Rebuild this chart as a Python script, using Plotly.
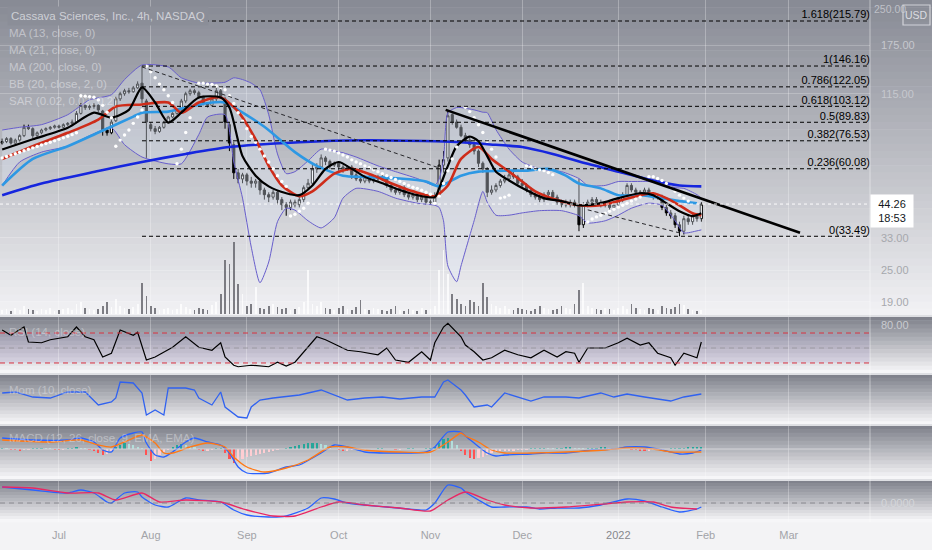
import numpy as np
import pandas as pd
import plotly.graph_objects as go
from plotly.subplots import make_subplots

# one bar per session, NASDAQ calendar
holidays = ["2021-07-05", "2021-09-06", "2021-11-25", "2021-12-24", "2022-01-17", "2022-02-21"]
days = pd.bdate_range("2021-06-14", "2022-01-31")
days = days[~days.isin(pd.to_datetime(holidays))]

opens = [75, 76, 78, 75, 77, 80, 86, 85, 80, 82, 84, 85, 86,
         87, 86, 88, 89, 90, 97, 104, 102, 103, 104, 99, 84, 82, 91, 110, 115, 118, 117, 121, 126, 108,
         88, 85, 83, 86, 90, 94, 97, 100, 108, 115, 118, 116, 112, 106, 104, 110, 118, 110, 88, 74, 58, 55,
         57, 54, 53, 54, 50, 48, 47, 49, 46, 44, 43, 45, 44, 46, 51, 53, 60, 61, 66, 64, 62,
         63, 61, 60, 61, 57, 55, 54, 56, 54, 55, 56, 55, 52, 50, 49, 51, 48, 47, 48, 46, 47,
         45, 45, 48, 62, 66, 96, 90, 86, 80, 77, 74, 70, 63, 60, 49, 50, 52, 54, 55, 57, 56,
         53, 52, 50, 48, 47, 46, 48, 49, 47, 45, 44, 44, 45, 44, 37, 44, 45, 46, 45, 44, 44, 43,
         44, 46, 48, 52, 50, 49, 49, 50, 48, 47, 47, 43, 41, 40, 37, 35, 39, 38, 40, 39]
highs = [78, 79, 79, 78, 81, 88, 88, 86, 83, 85, 86, 87, 88,
         88, 89, 90, 92, 99, 106, 105, 105, 106, 105, 100, 86, 92, 112, 117, 120, 121, 123, 128, 146.16, 110,
         90, 87, 87, 91, 95, 98, 101, 110, 117, 120, 120, 118, 113, 107, 112, 121, 120, 112, 90, 76, 60, 58,
         58, 56, 55, 55, 51, 49, 50, 50, 47, 45, 46, 46, 47, 52, 55, 62, 63, 68, 67, 65, 64,
         64, 62, 62, 62, 58, 56, 57, 57, 56, 57, 57, 56, 53, 51, 52, 52, 49, 49, 49, 48, 48,
         46, 49, 65, 70, 99, 97, 92, 88, 82, 79, 75, 71, 64, 61, 52, 53, 55, 57, 58, 59, 57,
         55, 53, 51, 49, 48, 49, 50, 50, 48, 46, 46, 46, 46, 55, 45, 46, 47, 47, 46, 45, 45, 45,
         47, 49, 53, 53, 51, 50, 51, 51, 49, 48, 48, 44, 42, 41, 38, 40, 40, 41, 41, 45]
lows = [74, 75, 74, 74, 76, 79, 84, 78, 79, 81, 83, 84, 85,
        85, 85, 87, 88, 89, 96, 100, 100, 101, 98, 80, 80, 81, 90, 108, 113, 115, 116, 120, 106, 66,
        83, 81, 82, 85, 89, 93, 96, 99, 106, 113, 114, 110, 104, 102, 103, 108, 110, 85, 70, 55, 53, 53,
        52, 51, 51, 48, 46, 45, 46, 44, 42, 40, 42, 43, 43, 45, 50, 52, 58, 60, 62, 60, 61,
        59, 58, 59, 55, 54, 53, 53, 53, 53, 54, 54, 51, 49, 48, 48, 47, 46, 46, 45, 45, 44,
        44, 44, 47, 58, 64, 88, 85, 79, 75, 72, 68, 61, 58, 47, 48, 49, 51, 53, 54, 55, 52,
        51, 49, 47, 46, 45, 45, 47, 46, 44, 43, 43, 43, 43, 35, 36, 43, 44, 44, 43, 43, 42, 42,
        43, 45, 47, 49, 48, 48, 48, 47, 46, 46, 42, 40, 39, 36, 33.49, 34, 37, 37, 38, 38]
closes = [76, 78, 75, 77, 80, 86, 85, 80, 82, 84, 85, 86, 87,
          86, 88, 89, 90, 97, 104, 102, 103, 104, 100, 84, 82, 90, 110, 115, 118, 117, 121, 125, 110, 90,
          85, 83, 86, 90, 94, 97, 100, 108, 115, 118, 116, 112, 106, 104, 110, 118, 112, 90, 75, 58, 55, 57,
          54, 53, 54, 50, 48, 47, 49, 46, 44, 43, 45, 44, 46, 51, 53, 60, 61, 66, 64, 62, 63,
          61, 60, 61, 57, 55, 54, 56, 54, 55, 56, 55, 52, 50, 49, 51, 48, 47, 48, 46, 47, 45,
          45, 47, 62, 65, 95, 90, 86, 80, 77, 74, 70, 63, 60, 49, 50, 52, 54, 55, 57, 56, 53,
          52, 50, 48, 47, 46, 48, 49, 47, 45, 44, 44, 45, 44, 37, 44, 45, 46, 45, 44, 44, 43, 44,
          46, 48, 52, 50, 49, 49, 50, 48, 47, 47, 43, 41, 40, 37, 35, 39, 38, 40, 39, 44.26]
# volume, millions
volume = [2, 2.5, 1.5, 3, 2, 4, 2.5, 2, 1.5, 2.5, 2, 3, 1.5,
          2, 2.5, 3, 2, 5, 6, 3, 2.5, 2, 2.5, 4, 6, 3.5,
          7.5, 4, 3, 2.5, 3.5, 5, 15.5, 9,
          4, 3, 2, 2.5, 3, 2, 2.5, 5, 3.5, 2.5, 2, 3, 2.5, 2, 4.5, 6, 10,
          27, 25, 36, 15, 10, 4, 5, 13.5,
          3, 2.5, 4, 5, 3.5, 2.5, 3, 2, 2.5, 3.5, 6, 22,
          5, 4, 6, 3, 2.5, 2, 3, 4, 2.5, 2, 3.5, 7, 2.5, 2, 3, 2.5, 2, 1.5, 2.5, 4, 2, 1.5, 2.5, 2, 1.5, 3, 2, 2.5, 4,
          22, 32, 20, 10, 7.5,
          5, 4, 7, 6, 4, 15.5, 8.5, 5, 4,
          3, 4, 2.5, 2, 3, 2.5, 2, 1.5, 2.5, 4, 3, 2.5, 2, 2.5, 4, 3, 2.5,
          5, 12, 15.5, 4, 3,
          2.5, 2, 3, 2.5, 2, 3, 4, 2.5, 5, 3, 2.5, 2, 3, 2.5, 2, 4, 3, 2.5, 3.5, 5, 4.5, 2.5, 2, 1.5, 2]

# moving averages (session index -> price)
ma13_at = [0, 7, 15, 21, 25, 29, 32, 35, 38, 41, 45, 50, 52, 55, 58, 61, 65, 68, 71, 74, 77, 80, 83, 87, 91, 95,
           99, 100, 102, 104, 107, 109, 111, 113, 116, 120, 124, 128, 132, 137, 141, 146, 149, 152, 155, 158, 160]
ma13 = [71, 77.5, 85.6, 97.6, 93.5, 100, 121.5, 106.6, 89.6, 97.6, 111.3, 111.3, 102, 67, 56.6, 51.6, 48.6, 47.8,
        52, 60, 63.7, 60, 56, 53, 50, 47.8, 47, 50.7, 61.6, 73, 79.4, 76.2, 67, 58.6, 54.3, 49.9, 46.6, 45.4, 43.8,
        44.6, 46.6, 48.6, 47.8, 44.6, 41.6, 39.9, 40.9]
ma21_at = [0, 7, 15, 22, 26, 32, 38, 41, 45, 50, 54, 58, 61, 64, 68, 71, 76, 80, 85, 89, 94, 99, 102, 105, 109, 112,
           116, 119, 122, 127, 132, 137, 141, 146, 149, 152, 155, 158, 160]
ma21 = [65.4, 73, 82, 92, 103, 104.8, 106.6, 97.6, 106.6, 111.3, 98.5, 77.5, 61.6, 52, 47.4, 49.4, 57.6, 60, 56.6,
        53, 49.4, 47.4, 52, 65.4, 72.5, 65.4, 58.6, 53.8, 49.4, 45.8, 43.8, 43.8, 45.4, 47.8, 48.6, 46.6, 43.8, 40.9, 40.2]
ma50_at = [0, 7, 15, 22, 30, 32, 38, 42, 48, 51, 54, 60, 67, 72, 78, 83, 91, 97, 100, 105, 109, 116, 120, 125, 129,
           132, 137, 141, 146, 151, 155, 159]
ma50 = [52, 65.4, 73, 82.2, 94.3, 97.6, 98.5, 102, 106.6, 106.6, 100, 86.4, 69.4, 61.6, 56.6, 56, 55.2, 53.8, 51.6,
        56.6, 58.6, 59.1, 59.1, 60, 56.6, 52.9, 50.7, 47.8, 47.8, 46.6, 45.4, 44.6]
ma200_at = [0, 9, 22, 32, 42, 52, 68, 83, 99, 105, 111, 119, 126, 134, 141, 149, 155, 160]
ma200 = [47.8, 52.9, 58.9, 63.7, 68.3, 72.5, 75.6, 76.9, 76.2, 75.6, 74.3, 72.5, 68.3, 62.7, 58.6, 54.3, 52, 51.6]

bb_at = [0, 4, 9, 15, 20, 25, 28, 32, 38, 41, 45, 47, 51, 53, 55, 57, 59, 61, 63, 65, 67, 70, 73, 76, 78, 81, 86,
         90, 95, 99, 100, 101, 102, 104, 105, 108, 110, 111, 113, 116, 119, 123, 128, 132, 134, 138, 141, 144, 148,
         151, 154, 156, 159, 160]
bb_up = [84, 86, 88, 95.9, 109, 114, 130, 147.5, 145, 132, 126, 126, 127, 132, 130, 126, 119, 95.9, 68.3, 57.6,
         58.6, 64.3, 71.2, 70, 69, 66.5, 61.6, 58.6, 55.2, 52, 55, 65, 97.6, 102, 102, 100, 98, 97.6, 84.3, 71.2,
         63.7, 60, 58.6, 55.2, 52, 52, 53.8, 53.8, 53.8, 53, 51, 50.7, 48, 46.6]
bb_lo = [52, 63.7, 69.4, 73, 80, 85.6, 74, 66.5, 62.7, 62.7, 80.8, 94, 95.9, 63.7, 46.6, 30.5, 22.4, 26.8, 38, 42.7,
         42, 38.3, 36, 39.3, 46.6, 50.7, 49.4, 46.6, 44.6, 43.8, 43, 38.3, 25.9, 22.6, 25.9, 38.3, 49.4, 45, 40.2,
         40.2, 41, 41.8, 41.8, 40, 37.6, 38.3, 40.2, 42.7, 44.6, 43.8, 38.3, 34.5, 35.1, 35.4]

# parabolic SAR runs: (first session, dots)
sar_runs = [
    (0, [66, 66.8, 67.6, 68.4, 69.3, 70.2, 71.1, 72, 72.9, 73.8, 74.7, 75.6, 76.5, 77.5, 78.5, 79.6, 80.7, 82]),
    (18, [113, 112.6, 112.2, 111.5, 109, 104, 98, 93.5]),
    (26, [73, 77, 80.5, 84, 89, 94, 100]),
    (33, [146, 139, 132, 125, 119, 113, 106.6]),
    (40, [62.7, 71.2, 82.2, 93.5]),
    (45, [126, 126, 125, 124.7, 123, 121.5, 119, 113, 105.7, 97.6, 90.7, 85, 79.4, 75.6, 71.2, 67.1, 63.7,
          60.1, 56.6, 53.8, 51.6]),
    (66, [39.9, 40.5, 41.6, 42.7, 44.6]),
    (74, [71.2, 70.6, 70, 68.9, 67.7, 66.5, 64.9, 63.7, 62.7, 61.6, 60.6, 59.5, 58.6, 57.6, 56.6, 55.7, 54.8,
          53.8, 52.9, 52, 51.2, 50.7, 49.9, 49, 48.2]),
    (99, [44.6, 47.4, 52.9, 59, 65.4, 72.5]),
    (106, [102.2, 98.5, 93.5, 87.9, 82.2, 76.2, 71.2, 66.5]),
    (114, [46.6, 47, 47.8]),
    (120, [61.6, 61.1, 60.1, 59.5, 59.1, 58.1, 57.1]),
    (134, [37.9, 38.9, 39.6, 40.2, 40.9, 41.6, 42.3, 43.1, 43.8, 44.6, 45.4, 46.2, 47]),
    (148, [56.1, 56.1, 55.2, 54.3, 52.9, 50.9, 49.4, 47.8, 46.6, 45.4]),
]

fib_ratio = [1.618, 1, 0.786, 0.618, 0.5, 0.382, 0.236, 0]
fib_price = [215.79, 146.16, 122.05, 103.12, 89.83, 76.53, 60.08, 33.49]
fib_start = "2021-07-29"

trend_x = ["2021-11-04 12:00", "2022-03-03 14:00"]
trend_y = [100, 34.5]
dash1_x = ["2021-07-29", "2021-11-03"]
dash1_y = [145, 60.5]
dash2_x = ["2021-12-22", "2022-01-24"]
dash2_y = [42.1, 34.5]
last_price = 44.26

rsi_at = [0, 2, 3, 5, 6, 9, 11, 15, 17, 19, 21, 23, 25, 27, 30, 31, 33, 35, 39, 42, 45, 48, 50, 51, 53, 54, 57, 61,
          63, 65, 67, 70, 72, 74, 79, 82, 86, 88, 90, 93, 96, 98, 99, 101, 102, 105, 106, 108, 110, 112, 115, 118,
          121, 124, 127, 129, 131, 132, 134, 138, 141, 143, 146, 148, 150, 153, 154, 156, 159, 160]
rsi = [74, 67, 71, 78, 58, 57, 61, 65, 78, 65, 61, 38, 43, 74, 67, 71, 34, 38, 51, 65, 51, 47, 57, 38, 27, 25, 27,
       25, 31, 26, 31, 51, 65, 61, 47, 45, 41, 50, 34, 31, 45, 34, 57, 78, 83, 65, 54, 45, 34, 37, 47, 41, 37, 47,
       38, 45, 43, 31, 50, 50, 57, 63, 54, 57, 43, 37, 27, 43, 37, 58]

mom_at = [0, 3, 7, 11, 15, 19, 22, 25, 26, 27, 30, 32, 33, 35, 37, 38, 42, 44, 45, 48, 50, 51, 54, 56, 57, 59, 62,
          68, 73, 76, 79, 83, 87, 91, 96, 99, 101, 102, 105, 106, 108, 111, 112, 115, 118, 121, 124, 129, 132, 137,
          140, 143, 147, 153, 156, 160]
mom = [5, 6, 1, 0, 6, 6, -7, -4, 0, 16, 15, 5, -17, -12, -17, 10, 10, 8, 0, -7, 6, -9, -19, -20, -9, -2, 0, 3, 8,
       3, -2, 0, 1, -1, 1, 1, 16, 18, 8, 3, -9, -7, -9, 5, 1, -3, 1, 1, 0, 5, 1, 4, 1, -3, 1, 4]

macd_at = [0, 7, 15, 18, 21, 23, 25, 27, 30, 32, 33, 35, 37, 39, 42, 44, 47, 50, 52, 54, 56, 61, 65, 68, 73, 76,
           79, 83, 91, 97, 99, 102, 105, 106, 108, 111, 113, 115, 121, 124, 129, 135, 140, 143, 147, 151, 155, 158, 160]
macd = [5.5, 4.5, 4.5, 5.5, 3.5, -0.5, -1.5, 5.5, 8, 8.5, 3, -3, -4, -1.5, 3.5, 5.5, 3.5, 2, -2, -9, -12, -12, -9,
        -8, -2, 2, 1, -1.5, -2, -1.5, 1, 8.5, 8.5, 6.5, 3, -2, -3.5, -3, -2.5, -2, -2, -0.5, 0, 1, 1, -0.5, -2.5, -2, -0.5]
signal_at = [0, 11, 18, 22, 25, 29, 32, 35, 37, 39, 43, 47, 51, 53, 56, 60, 65, 70, 75, 79, 83, 91, 98, 102, 105,
             106, 109, 112, 115, 121, 129, 138, 143, 149, 153, 160]
signal = [4.5, 3.5, 4.5, 2, 1, 4.5, 7, 3, -2, -2, 1, 3, 1, -4, -9, -11.5, -9.5, -5.5, 1, 1, -0.5, -1.5, -1.5, 3.5,
          8, 6.5, 3.5, -0.5, -2, -2, -1.5, -0.5, 0.5, 0, -1.5, -1.5]
hist = [0.5, 0.3, -0.3, -0.5, -0.6, -0.4, -0.2, 0.2, 0.4, 0.5, 0.4, 0.2, -0.3, -0.5, -0.4, 0.3, 0.5, 0.6, 0.4, 0.2, -0.5,
        -1, -2, -3, -2.5, -1,
        1, 2, 3, 2.5, 2, 1, 0.5,
        -3, -6, -5, -3, -1.5, -0.5,
        1, 2, 2.5, 2, 1.5, 1,
        -0.5, -1, -1, -0.5, 0.5, 0.5,
        -2, -5, -7, -6.5, -5, -4, -3.5, -3, -2.5, -2, -1.5, -1,
        -0.5, 0, 0.5, 1, 1.5, 2,
        2.5, 3, 3, 3, 2.5, 2, 1,
        0, -0.5, -1, -1, -0.5,
        -0.5, -0.5, -0.5, 0, 0, 0.3, 0.3, 0, 0, -0.3, -0.3, 0, 0.3, 0.3, 0, 0, 0.3, 0.5,
        1, 3, 5, 5.5, 4, 2,
        -1, -3, -4.5, -5, -4.5, -4, -3, -2,
        -1.5, -1.2, -1, -0.8, -0.6, -0.5, -0.4, -0.3,
        0.3, 0.4, 0.5, 0.5, 0.4, 0.3, 0.4, 0.5, 0.6, 0.6, 0.5, 0.3, 0.2, 0.3, 0.4, 0.5, 0.6, 0.6, 0.5, 0.4,
        0.3, 0.2, 0, -0.3, -0.5, -0.6, -0.7, -0.6, -0.5, -0.3,
        -0.2, 0, 0.2, 0.3, 0.4, 0.5, 0.6, 0.6, 0.7, 0.8]

tsi_at = [0, 7, 15, 18, 21, 24, 25, 28, 31, 32, 35, 38, 42, 45, 50, 53, 56, 61, 65, 70, 73, 76, 79, 83, 88, 93, 97,
          99, 102, 105, 106, 109, 112, 115, 120, 123, 127, 132, 137, 143, 147, 151, 155, 159, 160]
tsi = [.16, .13, .10, .13, .10, .01, 0, .10, .11, .06, -.02, -.04, .05, .03, .01, -.07, -.12, -.14, -.13, -.05, .05,
       .04, 0, -.02, -.04, -.06, -.07, 0, .18, .15, .11, .03, -.04, -.04, -.04, -.06, -.05, -.05, -.02, .04, .02,
       -.04, -.09, -.06, -.04]
tsi_sig_at = [0, 7, 15, 22, 26, 32, 36, 42, 50, 56, 62, 67, 73, 77, 83, 91, 98, 102, 106, 111, 115, 121, 129, 135,
              143, 149, 153, 159]
tsi_sig = [.16, .15, .10, .10, .03, .10, .01, .03, .01, -.07, -.13, -.13, -.04, .01, -.02, -.05, -.08, .03, .11, .03,
           -.02, -.05, -.04, -.02, .01, .01, -.04, -.06]

month_ticks = ["2021-07-01", "2021-08-02", "2021-09-01", "2021-10-01", "2021-11-01", "2021-12-01",
               "2022-01-03", "2022-02-01", "2022-03-01"]
month_text = ["Jul", "Aug", "Sep", "Oct", "Nov", "Dec", "<span style='color:#86878c'>2022</span>", "Feb", "Mar"]
price_ticks = [19, 25, 33, 115, 175]

x_start, x_end = "2021-06-11 12:00", "2022-03-25 14:24"
DAY = 86400000
H = 522.0  # plot height in px


def py(y):
    return (H - y) / H


fig = make_subplots(rows=5, cols=1, shared_xaxes=True, vertical_spacing=0,
                    row_heights=[316, 58, 51, 55, 42],
                    specs=[[{"secondary_y": True}], [{}], [{}], [{}], [{}]])

# background gradients
X1 = 932 / 870.0
def gradient(y0, y1, top, bot, n):
    for i in range(n):
        t = i / (n - 1)
        c = [int(round(a + (b - a) * t)) for a, b in zip(top, bot)]
        ya = y0 + (y1 - y0) * i / n
        yb = y0 + (y1 - y0) * (i + 1) / n + 0.6
        fig.add_shape(type="rect", xref="paper", yref="paper", x0=0, x1=X1, y0=py(yb), y1=py(ya),
                      fillcolor="rgb(%d,%d,%d)" % tuple(c), line_width=0, layer="below")

gradient(0, 316, (136, 139, 149), (241, 241, 244), 44)
for a, b in [(316, 374), (374, 425), (425, 480), (480, 522)]:
    gradient(a, b, (128, 130, 140), (246, 246, 248), 14)

# volume
vol_colors = ["rgba(255,255,255,0.75)" if c >= o else "rgba(104,105,112,0.85)" for o, c in zip(opens, closes)]
fig.add_trace(go.Bar(x=days, y=volume, marker_color=vol_colors, marker_line_width=0, width=DAY * 0.4,
                     hoverinfo="skip"), row=1, col=1, secondary_y=False)

# bollinger bands
bb_x = days[bb_at]
fig.add_trace(go.Scatter(x=bb_x, y=bb_lo, mode="lines", line=dict(color="rgb(104,94,204)", width=1, shape="spline", smoothing=0.6),
                         hoverinfo="skip"), row=1, col=1, secondary_y=True)
fig.add_trace(go.Scatter(x=bb_x, y=bb_up, mode="lines", fill="tonexty", fillcolor="rgba(226,234,250,0.35)",
                         line=dict(color="rgb(104,94,204)", width=1, shape="spline", smoothing=0.6),
                         hoverinfo="skip"), row=1, col=1, secondary_y=True)

fig.add_trace(go.Candlestick(x=days, open=opens, high=highs, low=lows, close=closes, whiskerwidth=0,
                             increasing=dict(line=dict(color="black", width=1), fillcolor="white"),
                             decreasing=dict(line=dict(color="black", width=1), fillcolor="black"),
                             hoverinfo="skip"), row=1, col=1, secondary_y=True)


def ma_line(at, vals, color, width):
    fig.add_trace(go.Scatter(x=days[at], y=vals, mode="lines",
                             line=dict(color=color, width=width, shape="spline", smoothing=0.7),
                             hoverinfo="skip"), row=1, col=1, secondary_y=True)

ma_line(ma200_at, ma200, "rgb(22,38,222)", 2.6)
ma_line(ma50_at, ma50, "rgb(45,152,228)", 2.6)
ma_line(ma21_at, ma21, "rgb(206,44,26)", 2.6)
ma_line(ma13_at, ma13, "black", 2.2)

sar_x, sar_y = [], []
for first, dots in sar_runs:
    sar_x += list(days[first:first + len(dots)])
    sar_y += dots
fig.add_trace(go.Scatter(x=sar_x, y=sar_y, mode="markers", marker=dict(color="white", size=3.4),
                         hoverinfo="skip"), row=1, col=1, secondary_y=True)

# fibonacci levels
for p in fib_price:
    fig.add_trace(go.Scatter(x=[fib_start, x_end], y=[p, p], mode="lines",
                             line=dict(color="black", width=1, dash="4px,3px"), hoverinfo="skip"),
                  row=1, col=1, secondary_y=True)
fig.add_trace(go.Scatter(x=[x_end] * len(fib_price), y=fib_price, mode="text",
                         text=["%g(%.2f)" % (r, p) for r, p in zip(fib_ratio, fib_price)],
                         textposition="top left", textfont=dict(size=11, color="black"), hoverinfo="skip"),
              row=1, col=1, secondary_y=True)

for xs, ys in [(dash1_x, dash1_y), (dash2_x, dash2_y)]:
    fig.add_trace(go.Scatter(x=xs, y=ys, mode="lines", line=dict(color="rgb(40,40,44)", width=1, dash="4px,3px"),
                             hoverinfo="skip"), row=1, col=1, secondary_y=True)
fig.add_trace(go.Scatter(x=trend_x, y=trend_y, mode="lines", line=dict(color="black", width=2.6),
                         hoverinfo="skip"), row=1, col=1, secondary_y=True)
fig.add_trace(go.Scatter(x=[x_start, x_end], y=[last_price, last_price], mode="lines",
                         line=dict(color="rgba(255,255,255,0.95)", width=1, dash="dot"), hoverinfo="skip"),
              row=1, col=1, secondary_y=True)

# RSI
fig.add_shape(type="rect", xref="paper", yref="y3", x0=0, x1=1, y0=30, y1=70,
              fillcolor="rgba(126,87,194,0.10)", line_width=0, layer="below")
for lvl, col in [(70, "rgb(214,48,62)"), (30, "rgb(214,48,62)"), (50, "rgba(150,150,156,0.8)")]:
    fig.add_shape(type="line", xref="paper", yref="y3", x0=0, x1=1, y0=lvl, y1=lvl,
                  line=dict(color=col, width=1, dash="5px,4px"))
fig.add_trace(go.Scatter(x=days[rsi_at], y=rsi, mode="lines", line=dict(color="black", width=1.2),
                         hoverinfo="skip"), row=2, col=1)

# momentum
fig.add_trace(go.Scatter(x=days[mom_at], y=mom, mode="lines", line=dict(color="rgb(48,98,240)", width=1.3),
                         hoverinfo="skip"), row=3, col=1)

# MACD
fig.add_shape(type="line", xref="paper", yref="y5", x0=0, x1=1, y0=0, y1=0,
              line=dict(color="rgba(215,215,220,0.9)", width=1))
hist_colors = []
for i, h in enumerate(hist):
    prev = hist[i - 1] if i else h
    if h >= 0:
        hist_colors.append("#26a69a" if h >= prev else "#b2dfdb")
    else:
        hist_colors.append("#ff5252" if h < prev else "#ffcdd2")
fig.add_trace(go.Bar(x=days, y=hist, marker_color=hist_colors, marker_line_width=0, width=DAY * 0.5,
                     hoverinfo="skip"), row=4, col=1)
fig.add_trace(go.Scatter(x=days[macd_at], y=macd, mode="lines",
                         line=dict(color="rgb(41,98,255)", width=1.3, shape="spline", smoothing=0.6),
                         hoverinfo="skip"), row=4, col=1)
fig.add_trace(go.Scatter(x=days[signal_at], y=signal, mode="lines",
                         line=dict(color="rgb(255,120,20)", width=1.3, shape="spline", smoothing=0.6),
                         hoverinfo="skip"), row=4, col=1)

# TSI
fig.add_shape(type="line", xref="paper", yref="y6", x0=0, x1=1, y0=0, y1=0,
              line=dict(color="rgba(128,128,134,0.85)", width=1, dash="5px,4px"))
fig.add_trace(go.Scatter(x=days[tsi_at], y=tsi, mode="lines",
                         line=dict(color="rgb(41,98,255)", width=1.3, shape="spline", smoothing=0.6),
                         hoverinfo="skip"), row=5, col=1)
fig.add_trace(go.Scatter(x=days[tsi_sig_at], y=tsi_sig, mode="lines",
                         line=dict(color="rgb(232,40,100)", width=1.3, shape="spline", smoothing=0.6),
                         hoverinfo="skip"), row=5, col=1)

# pane separators and price-scale border
for y in [316, 374, 425, 480]:
    fig.add_shape(type="line", xref="paper", yref="paper", x0=0, x1=X1, y0=py(y), y1=py(y),
                  line=dict(color="rgb(222,223,227)", width=2))
fig.add_shape(type="line", xref="paper", yref="paper", x0=1, x1=1, y0=0, y1=1,
              line=dict(color="rgba(255,255,255,0.45)", width=1))

# axes
fig.update_xaxes(type="date", range=[x_start, x_end], domain=[0, 1], automargin=False,
                 rangebreaks=[dict(bounds=["sat", "mon"]), dict(values=holidays)],
                 tickvals=month_ticks, ticktext=month_text, showgrid=True, gridcolor="rgba(255,255,255,0.28)",
                 zeroline=False, showline=False, ticks="", rangeslider_visible=False, showticklabels=False)
fig.update_xaxes(showticklabels=True, tickfont=dict(size=11, color="#a2a3a8"), ticklabelstandoff=5, row=5, col=1)
fig.update_yaxes(automargin=False)

fig.update_yaxes(visible=False, range=[-1, 157], fixedrange=True, row=1, col=1, secondary_y=False)
fig.update_yaxes(type="log", range=[np.log10(16.8), np.log10(258.8)], side="right", tickvals=price_ticks,
                 ticktext=["<span style='color:%s'>%.2f</span>" % ("#c6c8ce" if p > 100 else "#a6a8ad", p)
                           for p in price_ticks],
                 showgrid=True, gridcolor="rgba(255,255,255,0.22)", zeroline=False, ticks="",
                 ticklabelstandoff=10, tickfont=dict(size=11), row=1, col=1, secondary_y=True)
fig.update_yaxes(range=[15.3, 92.7], side="right", tickvals=[80], ticktext=["80.00"], showgrid=False,
                 zeroline=False, ticks="", ticklabelstandoff=10, tickfont=dict(size=11, color="#c9cbd0"), row=2, col=1)
fig.update_yaxes(range=[-27, 24], showticklabels=False, showgrid=False, zeroline=False, row=3, col=1)
fig.update_yaxes(range=[-15.5, 12], showticklabels=False, showgrid=False, zeroline=False, row=4, col=1)
fig.update_yaxes(range=[-0.19, 0.23], side="right", tickvals=[0], ticktext=["0.0000"], showgrid=False,
                 zeroline=False, ticks="", ticklabelstandoff=10, tickfont=dict(size=11, color="#d4d6da"), row=5, col=1)

# legends
legend_lines = ["Cassava Sciences, Inc., 4h, NASDAQ", "MA (13, close, 0)", "MA (21, close, 0)",
                "MA (200, close, 0)", "BB (20, close, 2, 0)", "SAR (0.02, 0.02, 0.2)"]
ann = []
for i, txt in enumerate(legend_lines):
    a = dict(xref="paper", yref="paper", x=7 / 870, y=py(16 + 17 * i), xanchor="left", yanchor="middle",
             text=txt, showarrow=False, font=dict(size=11.5, color="rgba(238,239,243,0.5)"))
    if i == 0:
        a.update(bgcolor="rgb(139,142,152)", borderpad=3, font=dict(size=11.5, color="rgba(236,237,241,0.7)"))
    ann.append(a)
for txt, y in [("RSI (14, close)", 332), ("Mom (10, close)", 390), ("MACD (12, 26, close, 9, EMA, EMA)", 438)]:
    ann.append(dict(xref="paper", yref="paper", x=7 / 870, y=py(y), xanchor="left", yanchor="middle",
                    text=txt, showarrow=False, font=dict(size=11.5, color="rgba(238,239,243,0.42)")))
# top price label and currency badge kept side by side
ann.append(dict(xref="paper", yref="paper", x=872 / 870, y=py(9), xanchor="left", yanchor="middle",
                text="250.00", showarrow=False, font=dict(size=10.5, color="rgba(205,207,213,0.8)")))
ann.append(dict(xref="paper", yref="y2", x=1, y=np.log10(last_price), xanchor="left", yanchor="middle", yshift=-7,
                text="44.26<br>18:53", showarrow=False, bgcolor="white", borderpad=3, width=36, align="center",
                font=dict(size=11, color="#131722")))
ann.append(dict(xref="paper", yref="paper", x=916 / 870, y=py(15), xanchor="center", yanchor="middle",
                text="USD", showarrow=False, font=dict(size=10.5, color="rgba(240,240,244,0.8)")))
fig.add_shape(type="rect", xref="paper", yref="paper", x0=903 / 870, x1=930 / 870, y0=py(25), y1=py(5),
              line=dict(color="rgba(240,240,244,0.7)", width=1.2))

fig.update_layout(width=932, height=550, margin=dict(l=0, r=62, t=0, b=28, autoexpand=False), showlegend=False,
                  paper_bgcolor="rgb(243,243,245)", plot_bgcolor="rgba(0,0,0,0)", bargap=0,
                  font=dict(family="Liberation Sans", size=11), annotations=ann, hovermode=False)

# page body has a default 8px margin; drop it so the figure fills the window
fig.write_html("out.html", config={"displayModeBar": False},
               post_script="document.body.style.margin='0';")
